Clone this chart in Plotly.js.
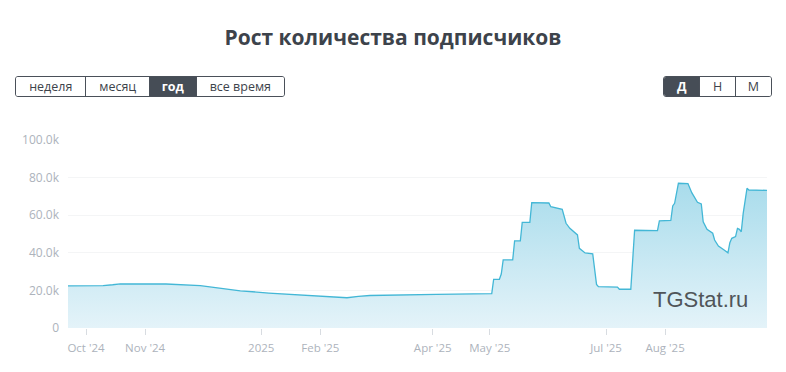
<!DOCTYPE html>
<html>
<head>
<meta charset="utf-8">
<script src="https://cdn.plot.ly/plotly-3.0.1.min.js"></script>
<style>
  html, body { margin: 0; padding: 0; background: #fff; }
  body { width: 786px; height: 372px; position: relative; overflow: hidden; font-family: "Open Sans", sans-serif; }
  #chart { position: absolute; left: 0; top: 0; width: 786px; height: 372px; }
  .grp { position: absolute; top: 76px; height: 21px; display: flex; border: 1px solid #4a5059; border-radius: 3px; overflow: hidden; box-sizing: border-box; z-index: 5; }
  .grp div { height: 100%; display: flex; align-items: center; justify-content: center; font-size: 12.5px; color: #3d434b; border-left: 1px solid #4a5059; box-sizing: border-box; background: #fff; }
  .grp div:first-child { border-left: none; }
  .grp div.on { background: #464d56; color: #fff; font-weight: bold; }
</style>
</head>
<body>
<div id="chart"></div>
<div class="grp" style="left:15px;width:270px;">
  <div style="width:70px">неделя</div>
  <div style="width:64px">месяц</div>
  <div class="on" style="width:47px">год</div>
  <div style="width:89px">все время</div>
</div>
<div class="grp" style="left:663px;width:109px;">
  <div class="on" style="width:36px">Д</div>
  <div style="width:36px">Н</div>
  <div style="width:37px">М</div>
</div>
<script>
const dates = [
  '2024-09-21','2024-10-10','2024-10-15','2024-10-19','2024-11-12','2024-11-22','2024-11-30','2024-12-10','2024-12-21',
  '2025-01-05','2025-01-22','2025-02-05','2025-02-15','2025-02-21','2025-02-27','2025-04-03','2025-05-02',
  '2025-05-03','2025-05-06','2025-05-07','2025-05-08','2025-05-13','2025-05-14',
  '2025-05-17','2025-05-18','2025-05-22','2025-05-23','2025-06-01','2025-06-02',
  '2025-06-08','2025-06-10','2025-06-12','2025-06-15','2025-06-16','2025-06-17',
  '2025-06-20','2025-06-24','2025-06-26','2025-06-27','2025-07-07','2025-07-08',
  '2025-07-14','2025-07-16','2025-07-28','2025-07-29','2025-08-04','2025-08-05',
  '2025-08-06','2025-08-08','2025-08-13','2025-08-15','2025-08-18','2025-08-20',
  '2025-08-21','2025-08-23','2025-08-26','2025-08-27','2025-08-29','2025-09-01',
  '2025-09-03','2025-09-04','2025-09-05','2025-09-07','2025-09-08','2025-09-09',
  '2025-09-10','2025-09-11','2025-09-13','2025-09-14','2025-09-24'
];
const subscribers = [
  22400,22500,23000,23500,23400,23100,22500,21200,19800,
  18600,17400,16600,16100,16800,17300,17900,18300,
  25900,25900,28700,36200,36200,46300,
  46300,56200,56200,66700,66500,64500,
  63100,55700,53000,50400,49500,42400,
  39900,39500,23200,22000,21800,20600,
  20600,52000,51800,57000,57200,64900,
  66300,77000,76800,72000,66900,66000,
  56500,52500,50400,46800,43600,41500,
  40000,45400,47700,48600,53000,52500,
  51200,61000,74300,73400,73200
];
const yTickVals = [0,20000,40000,60000,80000,100000];
const yTickText = ['0','20.0k','40.0k','60.0k','80.0k','100.0k'];
const xTickVals = ['2024-10-01','2024-11-01','2025-01-01','2025-02-01','2025-04-01','2025-05-01','2025-07-01','2025-08-01'];
const xTickText = ["Oct '24","Nov '24","2025","Feb '25","Apr '25","May '25","Jul '25","Aug '25"];
const chartTitle = 'Рост количества подписчиков';
const watermark = 'TGStat.ru';

const trace = {
  x: dates, y: subscribers, type: 'scatter', mode: 'lines',
  line: {color: '#43b7d6', width: 1.3},
  fill: 'tozeroy',
  fillgradient: {type: 'vertical', start: 0, stop: 80000,
    colorscale: [[0, 'rgb(228,243,249)'], [1, 'rgb(166,219,235)']]},
  hoverinfo: 'skip'
};

const layout = {
  width: 786, height: 372,
  margin: {l: 68, r: 19, t: 140, b: 44},
  paper_bgcolor: '#fff', plot_bgcolor: '#fff',
  showlegend: false,
  title: {text: '<b>' + chartTitle + '</b>', x: 0.5, xanchor: 'center', y: 0.9, yanchor: 'middle', yref: 'container',
    font: {family: 'Open Sans, sans-serif', size: 21, color: '#3d434b'}},
  xaxis: {
    type: 'date', range: ['2024-09-21 13:00', '2025-09-23 12:00'],
    tickvals: xTickVals, ticktext: xTickText,
    ticks: 'outside', ticklen: 6, tickcolor: '#d8dce1', tickwidth: 1,
    ticklabelstandoff: 3,
    showgrid: false, zeroline: false, showline: false,
    tickfont: {family: 'Open Sans, sans-serif', size: 11.5, color: '#adb3bc'}
  },
  yaxis: {
    range: [0, 100000], tickvals: yTickVals, ticktext: yTickText,
    showgrid: true, gridcolor: '#f4f5f6', gridwidth: 1, zeroline: false,
    ticks: '', ticklen: 0, showline: false, ticklabelstandoff: 8,
    tickfont: {family: 'Open Sans, sans-serif', size: 12, color: '#adb3bc'}
  },
  annotations: [{
    text: watermark, xref: 'paper', yref: 'paper', x: 0.905, y: 0.15,
    xanchor: 'center', yanchor: 'middle', showarrow: false,
    font: {family: 'Liberation Sans, Arial, sans-serif', size: 22, color: '#505559'}
  }]
};

Plotly.newPlot('chart', [trace], layout, {displayModeBar: false, staticPlot: true});
</script>
</body>
</html>
